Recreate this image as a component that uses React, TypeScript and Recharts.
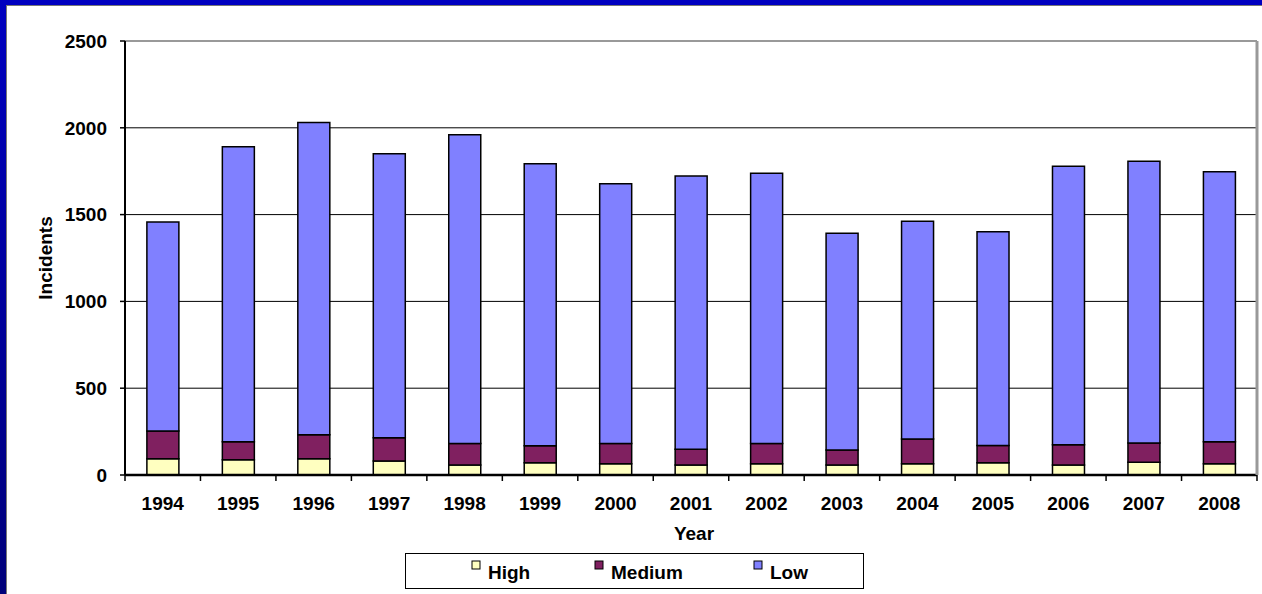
import React from 'react';
import { BarChart, Bar, XAxis, YAxis, CartesianGrid, ReferenceLine } from 'recharts';

const years = ['1994', '1995', '1996', '1997', '1998', '1999', '2000', '2001', '2002', '2003', '2004', '2005', '2006', '2007', '2008'];
const highValues = [94, 88, 94, 80, 57, 71, 65, 57, 65, 57, 65, 71, 57, 73, 65];
const mediumValues = [159, 103, 138, 135, 125, 98, 117, 92, 117, 87, 142, 99, 117, 111, 127];
const lowValues = [1205, 1700, 1798, 1636, 1778, 1624, 1496, 1574, 1556, 1249, 1255, 1231, 1604, 1624, 1555];
const yTicks = [0, 500, 1000, 1500, 2000, 2500];

const seriesNames = ['High', 'Medium', 'Low'];
const seriesColors = ['#FFFFC0', '#802060', '#8080FF'];

const data = years.map((year, i) => ({
  year,
  high: highValues[i],
  medium: mediumValues[i],
  low: lowValues[i],
}));

const FONT = '"Liberation Sans", Arial, sans-serif';

// category tick: label in the middle, tick marks on the category edges
const XTick = (props: any) => {
  const { x, y, payload, index, visibleTicksCount } = props;
  const half = payload && payload.offset ? payload.offset : 1132 / years.length / 2;
  return (
    <g>
      <line x1={x - half} y1={y} x2={x - half} y2={y + 6} stroke="#000" strokeWidth={1.5} />
      {index === visibleTicksCount - 1 && (
        <line x1={x + half} y1={y} x2={x + half} y2={y + 6} stroke="#000" strokeWidth={1.5} />
      )}
      <text x={x} y={y + 35} textAnchor="middle" fontFamily={FONT} fontSize={19} fontWeight="bold" fill="#000">
        {payload.value}
      </text>
    </g>
  );
};

const YLabel = (props: any) => {
  const vb = props.viewBox || { y: 41, height: 434 };
  const cy = vb.y + vb.height / 2;
  return (
    <text x={52} y={cy} transform={`rotate(-90, 52, ${cy})`} textAnchor="middle" fontFamily={FONT} fontSize={19} fontWeight="bold" fill="#000">
      Incidents
    </text>
  );
};

const XLabel = (props: any) => {
  const vb = props.viewBox || { x: 125, y: 475, width: 1132 };
  return (
    <text x={vb.x + vb.width / 2 + 3} y={vb.y + 65} textAnchor="middle" fontFamily={FONT} fontSize={19} fontWeight="bold" fill="#000">
      Year
    </text>
  );
};

const legendX = [66, 189, 348];

const LegendBox = () => (
  <div style={{ position: 'absolute', left: 405, top: 553, width: 459, height: 36, boxSizing: 'border-box', border: '1.5px solid #000', background: '#fff' }}>
    <svg width={456} height={33} style={{ display: 'block' }}>
      {seriesNames.map((name, i) => (
        <g key={name}>
          <rect x={legendX[i]} y={7} width={8} height={8} fill={seriesColors[i]} stroke="#000" strokeWidth={1} />
          <text x={legendX[i] + 16} y={25} fontFamily={FONT} fontSize={19} fontWeight="bold" fill="#000">
            {name}
          </text>
        </g>
      ))}
    </svg>
  </div>
);

const App: React.FC = () => {
  return (
    <div style={{ position: 'absolute', left: 0, top: 0, width: 1262, height: 594, overflow: 'hidden', background: '#0000c0' }}>
      <div style={{ position: 'absolute', left: 0, top: 0, width: 7, height: 594, background: 'linear-gradient(to bottom, #0000c0, #00007a)' }} />
      <div style={{ position: 'absolute', left: 6, top: 5, right: 0, bottom: 0, background: '#fff', borderLeft: '1px solid #777', borderTop: '1px solid #777' }} />
      <div style={{ position: 'absolute', left: 0, top: 0 }}>
        <BarChart
          width={1262}
          height={594}
          data={data}
          margin={{ top: 41, right: 0, bottom: 46, left: 20 }}
          barCategoryGap="29%"
        >
          <CartesianGrid vertical={false} stroke="#000" strokeWidth={1} />
          <XAxis
            dataKey="year"
            interval={0}
            height={73}
            tickSize={0}
            tickMargin={0}
            tickLine={false}
            axisLine={{ stroke: '#000', strokeWidth: 2.5 }}
            tick={<XTick />}
            label={<XLabel />}
          />
          <YAxis
            width={105}
            domain={[0, 2500]}
            ticks={yTicks}
            interval={0}
            tickSize={5}
            tickMargin={13}
            tickLine={{ stroke: '#000', strokeWidth: 1.5 }}
            axisLine={{ stroke: '#000', strokeWidth: 2 }}
            tick={{ fill: '#000', fontFamily: FONT, fontSize: 19, fontWeight: 'bold' }}
            label={<YLabel />}
          />
          <YAxis
            yAxisId="right"
            orientation="right"
            width={5}
            domain={[0, 2500]}
            tick={false}
            tickLine={false}
            axisLine={{ stroke: '#999', strokeWidth: 3 }}
          />
          <ReferenceLine y={2500} stroke="#999" strokeWidth={2} />
          <Bar dataKey="high" name={seriesNames[0]} stackId="a" fill={seriesColors[0]} stroke="#000" strokeWidth={1.5} isAnimationActive={false} />
          <Bar dataKey="medium" name={seriesNames[1]} stackId="a" fill={seriesColors[1]} stroke="#000" strokeWidth={1.5} isAnimationActive={false} />
          <Bar dataKey="low" name={seriesNames[2]} stackId="a" fill={seriesColors[2]} stroke="#000" strokeWidth={1.5} isAnimationActive={false} />
        </BarChart>
      </div>
      <LegendBox />
    </div>
  );
};

export default App;
